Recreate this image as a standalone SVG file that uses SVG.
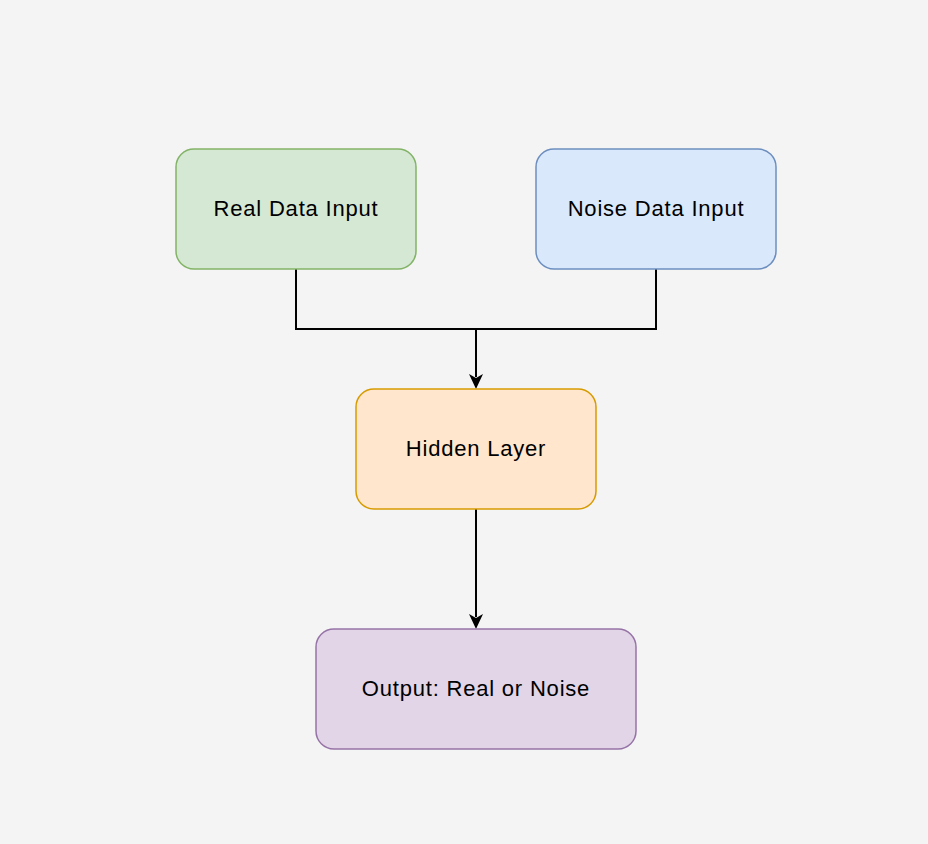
<svg xmlns="http://www.w3.org/2000/svg" width="928" height="844" viewBox="0 0 928 844">
<defs>
<style>
.box{stroke-width:1.5}
.lbl{font-family:"Helvetica","Liberation Sans",Arial,sans-serif;font-size:22px;letter-spacing:0.8px;fill:#000;text-anchor:middle;dominant-baseline:central}
.edge{fill:none;stroke:#000;stroke-width:2}
</style>
</defs>
<rect width="928" height="844" fill="#f4f4f4"/>
<g id="connectors">
<path class="edge" d="M296,269 V329 H476 V377"/>
<path class="edge" d="M656,269 V329 H476"/>
<path d="M476,389 L469,374 L476,378 L483,374 Z" fill="#000"/>
<path class="edge" d="M476,509 V617"/>
<path d="M476,629 L469,614 L476,618 L483,614 Z" fill="#000"/>
</g>
<g id="real">
<rect class="box" x="176" y="149" width="240" height="120" rx="18" fill="#d5e8d4" stroke="#82b366"/>
<text class="lbl" x="296" y="208">Real Data Input</text>
</g>
<g id="noise">
<rect class="box" x="536" y="149" width="240" height="120" rx="18" fill="#dae8fc" stroke="#6c8ebf"/>
<text class="lbl" x="656" y="208">Noise Data Input</text>
</g>
<g id="hidden">
<rect class="box" x="356" y="389" width="240" height="120" rx="18" fill="#ffe6cc" stroke="#d79b00"/>
<text class="lbl" x="476" y="448">Hidden Layer</text>
</g>
<g id="output">
<rect class="box" x="316" y="629" width="320" height="120" rx="18" fill="#e1d5e7" stroke="#9673a6"/>
<text class="lbl" x="476" y="688">Output: Real or Noise</text>
</g>
</svg>
